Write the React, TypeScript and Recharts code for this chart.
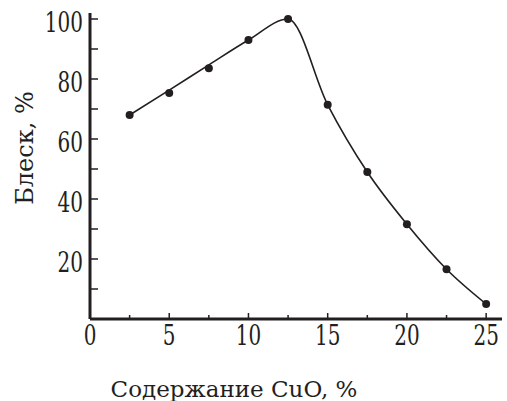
import React from 'react';
import { LineChart, Line, XAxis, YAxis } from 'recharts';

const cuoContent = [2.5, 5, 7.5, 10, 12.5, 15, 17.5, 20, 22.5, 25];
const glossMeasured = [68, 75.3, 83.6, 93, 100, 71.4, 49, 31.6, 16.6, 5];
const glossFitted = [68, 76.3, 84.7, 93, 100, 71.4, 49, 31.6, 16.6, 5];
const xTicks = [0, 2.5, 5, 7.5, 10, 12.5, 15, 17.5, 20, 22.5, 25];
const xLabelTicks = [0, 5, 10, 15, 20, 25];
const yTicks = [10, 20, 30, 40, 50, 60, 70, 80, 90, 100];
const yLabelTicks = [20, 40, 60, 80, 100];

const data = cuoContent.map((x, i) => ({ x, measured: glossMeasured[i], fitted: glossFitted[i] }));

const INK = '#231f20';
const FONT = 'DejaVu Serif';

const XTick = (props: any) => {
  const { x, y, payload } = props;
  const v = payload.value;
  const major = xLabelTicks.includes(v);
  return (
    <g>
      <line x1={x} y1={y} x2={x} y2={y - (major ? 6 : 4)} stroke={INK} strokeWidth={1.5} />
      {major && (
        <text
          transform={`translate(${x},${y + 26}) scale(1,1.35)`}
          textAnchor="middle"
          fontFamily={FONT}
          fontSize={20}
          fill={INK}
        >
          {v}
        </text>
      )}
    </g>
  );
};

const YTick = (props: any) => {
  const { x, y, payload } = props;
  const v = payload.value;
  const major = yLabelTicks.includes(v);
  return (
    <g>
      <line x1={x} y1={y} x2={x + 8} y2={y} stroke={INK} strokeWidth={1.5} />
      {major && (
        <text
          transform={`translate(${x - 7},${y + 13}) scale(1,1.35)`}
          textAnchor="end"
          fontFamily={FONT}
          fontSize={20}
          fill={INK}
        >
          {v}
        </text>
      )}
    </g>
  );
};

const XLabel = (props: any) => {
  const vb = props.viewBox || {};
  return (
    <text x={vb.x + 144} y={vb.y + 78} textAnchor="middle" fontFamily={FONT} fontSize={23} fill={INK}>
      Содержание CuO, %
    </text>
  );
};

const YLabel = (props: any) => {
  const vb = props.viewBox || {};
  return (
    <text
      transform={`translate(${vb.x + 33},${vb.y + 135}) rotate(-90)`}
      textAnchor="middle"
      fontFamily={FONT}
      fontSize={24}
      fill={INK}
    >
      Блеск, %
    </text>
  );
};

export default function App() {
  return (
    <div style={{ position: 'absolute', left: 0, top: 0, width: 507, height: 401, background: '#fff' }}>
      <LineChart width={507} height={401} data={data} margin={{ top: 13, right: 5, bottom: 0, left: 0 }}>
        <XAxis
          dataKey="x"
          type="number"
          domain={[0, 26]}
          ticks={xTicks}
          interval={0}
          height={82}
          tickSize={0}
          tickMargin={0}
          tickLine={false}
          axisLine={{ stroke: INK, strokeWidth: 3 }}
          tick={<XTick />}
          label={<XLabel />}
        />
        <YAxis
          type="number"
          domain={[0, 102]}
          ticks={yTicks}
          interval={0}
          width={90}
          tickSize={0}
          tickMargin={0}
          tickLine={false}
          axisLine={{ stroke: INK, strokeWidth: 3 }}
          tick={<YTick />}
          label={<YLabel />}
        />
        <Line type="monotone" dataKey="fitted" stroke={INK} strokeWidth={1.6} dot={false} isAnimationActive={false} />
        <Line
          type="monotone"
          dataKey="measured"
          stroke="none"
          dot={{ r: 4, fill: INK, stroke: INK, strokeWidth: 0 }}
          isAnimationActive={false}
        />
      </LineChart>
    </div>
  );
}
